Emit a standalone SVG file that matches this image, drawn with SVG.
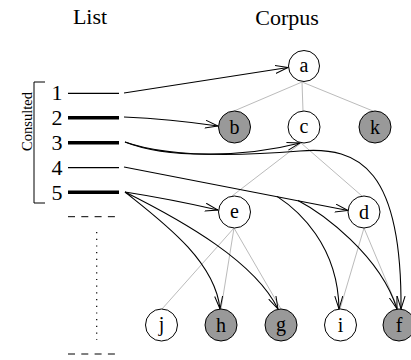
<svg xmlns="http://www.w3.org/2000/svg" width="411" height="360" viewBox="0 0 411 360">
<style>
text{font-family:"Liberation Serif","Times New Roman",serif;fill:#000}
.lbl{font-size:20px;text-anchor:middle}
.num{font-size:22px;text-anchor:middle}
.title{font-size:22px;text-anchor:middle}
.node{stroke:#000;stroke-width:1}
.w{fill:#fff}
.g{fill:#999}
.tree line{stroke:#bbb;stroke-width:1}
.arr path,.arr line{fill:none;stroke:#000;stroke-width:1.1;marker-end:url(#ah)}
</style>
<defs>
<marker id="ah" markerUnits="userSpaceOnUse" markerWidth="14" markerHeight="10" refX="13" refY="4.5" orient="auto">
<path d="M0,0.5 L13,4.5 L0,8.5" fill="none" stroke="#000" stroke-width="1"/>
</marker>
</defs>
<rect width="411" height="360" fill="#fff"/>
<text class="title" x="90" y="24">List</text>
<text class="title" x="287" y="25">Corpus</text>
<g id="list">
<path d="M45,82 H34 V203 H45" fill="none" stroke="#000" stroke-width="1"/>
<text x="32" y="121.5" font-size="14.5" text-anchor="middle" transform="rotate(-90 32 121.5)">Consulted</text>
<text class="num" x="57" y="100">1</text>
<text class="num" x="57" y="125">2</text>
<text class="num" x="57" y="150">3</text>
<text class="num" x="57" y="175">4</text>
<text class="num" x="57" y="200">5</text>
<line x1="68" y1="93.3" x2="119" y2="93.3" stroke="#000" stroke-width="1.2"/>
<line x1="68" y1="117.7" x2="119" y2="117.7" stroke="#000" stroke-width="3.4"/>
<line x1="68" y1="142.7" x2="119" y2="142.7" stroke="#000" stroke-width="3.4"/>
<line x1="68" y1="167.7" x2="119" y2="167.7" stroke="#000" stroke-width="1.2"/>
<line x1="68" y1="192.3" x2="119" y2="192.3" stroke="#000" stroke-width="3.4"/>
<line x1="68" y1="216.7" x2="119" y2="216.7" stroke="#000" stroke-width="1" stroke-dasharray="7,6.3"/>
<line x1="68" y1="354" x2="119" y2="354" stroke="#000" stroke-width="1" stroke-dasharray="7,6.3"/>
<line x1="96.7" y1="232" x2="96.7" y2="340" stroke="#000" stroke-width="1.2" stroke-dasharray="1.2,5.5"/>
</g>
<g class="tree">
<line x1="302" y1="82" x2="234" y2="111"/>
<line x1="302" y1="82" x2="303" y2="111"/>
<line x1="302" y1="82" x2="373" y2="111"/>
<line x1="301" y1="143" x2="232" y2="196"/>
<line x1="301" y1="143" x2="362" y2="196"/>
<line x1="234" y1="228" x2="162" y2="309"/>
<line x1="234" y1="228" x2="221" y2="309"/>
<line x1="234" y1="228" x2="281" y2="309"/>
<line x1="364" y1="228" x2="340" y2="309"/>
<line x1="364" y1="228" x2="398" y2="309"/>
</g>
<g id="connectors" class="arr">
<line x1="124" y1="93" x2="288" y2="67.5"/>
<path d="M124,117 Q170,119 218,126"/>
<path d="M125,142 C170,160 250,156 300,143"/>
<path d="M125,142 C170,158 240,156 300,151 C360,146 402,170 401,309" />
<line x1="124" y1="167" x2="348" y2="210.5"/>
<path d="M277,196.4 C298,210 338,245 339,309"/>
<path d="M298,200.5 C322,213 380,255 397,309"/>
<path d="M125,192 Q170,199 218,210"/>
<path d="M125,192 C160,220 215,260 220,309"/>
<path d="M125,192 C185,222 255,262 278,309"/>
</g>
<g id="a"><circle class="node w" cx="304" cy="66" r="15.5"/><text class="lbl" x="304" y="72">a</text></g>
<g id="b"><circle class="node g" cx="234.5" cy="127" r="16"/><text class="lbl" x="234.5" y="134">b</text></g>
<g id="c"><circle class="node w" cx="304" cy="127" r="16"/><text class="lbl" x="304" y="133">c</text></g>
<g id="k"><circle class="node g" cx="375" cy="127" r="16"/><text class="lbl" x="375" y="134">k</text></g>
<g id="e"><circle class="node w" cx="234.5" cy="212" r="16"/><text class="lbl" x="234.5" y="218">e</text></g>
<g id="d"><circle class="node w" cx="364" cy="212" r="16"/><text class="lbl" x="364" y="219">d</text></g>
<g id="j"><circle class="node w" cx="161.5" cy="325" r="16"/><text class="lbl" x="161.5" y="331">j</text></g>
<g id="h"><circle class="node g" cx="221" cy="325" r="16"/><text class="lbl" x="221" y="332">h</text></g>
<g id="g"><circle class="node g" cx="281" cy="325" r="16"/><text class="lbl" x="281" y="331">g</text></g>
<g id="i"><circle class="node w" cx="340.5" cy="325" r="16"/><text class="lbl" x="340.5" y="332">i</text></g>
<g id="f"><circle class="node g" cx="399" cy="325" r="16"/><text class="lbl" x="399" y="332">f</text></g>
</svg>
